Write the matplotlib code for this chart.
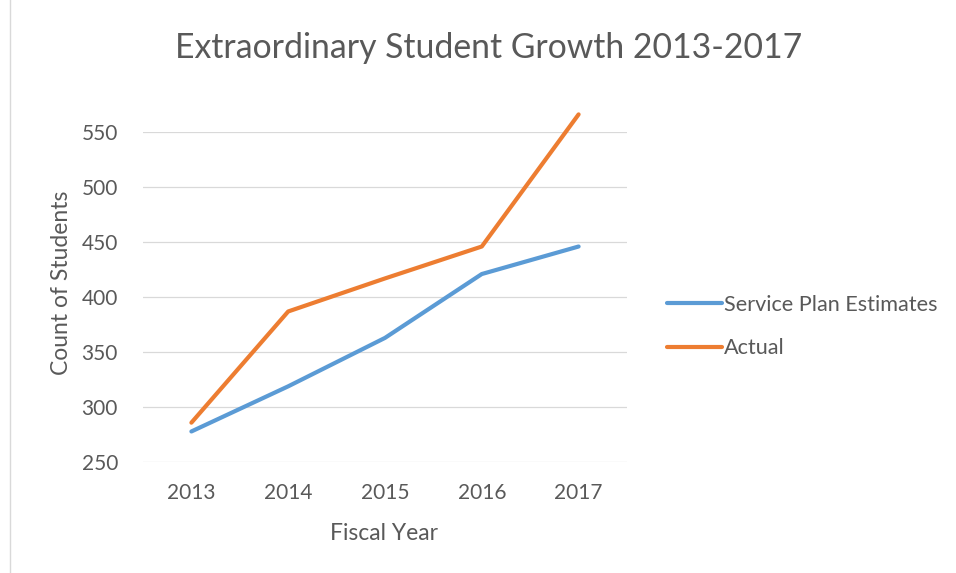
import matplotlib
matplotlib.use("Agg")
import matplotlib.pyplot as plt
from matplotlib.lines import Line2D

years = ["2013", "2014", "2015", "2016", "2017"]
service_plan = [278, 319, 363, 421, 446]
actual = [286, 387, 417, 446, 566]
y_ticks = [250, 300, 350, 400, 450, 500, 550]

plt.rcParams['font.family'] = ['Lato', 'DejaVu Sans']
TXT = '#595959'

W, H = 956, 573
fig = plt.figure(figsize=(W/100, H/100), dpi=100)
fig.patch.set_facecolor('white')

left, right = 143/W, 627/W
bottom, top = 1 - 462.3/H, 1 - 132/H
ax = fig.add_axes([left, bottom, right-left, top-bottom])

x = list(range(len(years)))
ax.plot(x, service_plan, color='#5B9BD5', lw=3, solid_capstyle='round',
        solid_joinstyle='round', clip_on=False, label='Service Plan Estimates', zorder=3)
ax.plot(x, actual, color='#ED7D31', lw=3, solid_capstyle='round',
        solid_joinstyle='round', clip_on=False, label='Actual', zorder=3)

ax.set_xlim(-0.5, len(years) - 0.5)
ax.set_ylim(250, 550)
ax.set_yticks(y_ticks)
ax.set_xticks(x)
ax.set_xticklabels(years)
ax.grid(axis='y', color='#D9D9D9', lw=0.9)
ax.set_axisbelow(True)
for s in ax.spines.values():
    s.set_visible(False)
ax.tick_params(axis='both', length=0, labelsize=15, colors=TXT)
ax.tick_params(axis='y', pad=18)
ax.tick_params(axis='x', pad=15)

fig.text(61/W, 1 - 283/H, 'Count of Students', rotation=90, ha='center', va='center',
         fontsize=16.5, color=TXT)
fig.text(384/W, 1 - 534/H, 'Fiscal Year', ha='center', va='center', fontsize=16.5, color=TXT)
fig.text(489/W, 1 - 48/H, 'Extraordinary Student Growth 2013-2017', ha='center', va='center',
         fontsize=24.3, color=TXT)

leg = ax.legend(loc='center left', bbox_to_anchor=(667/W, 1 - 326.5/H),
                bbox_transform=fig.transFigure, frameon=False, borderpad=0,
                handlelength=55/(15.6*1.389), handletextpad=0.08, labelspacing=1.1,
                fontsize=15.6, borderaxespad=0)
for t in leg.get_texts():
    t.set_color(TXT)

fig.add_artist(Line2D([10/W, 10/W], [0, 1], color='#D9D9D9', lw=1))

fig.savefig('out.png', dpi=100, facecolor='white')
